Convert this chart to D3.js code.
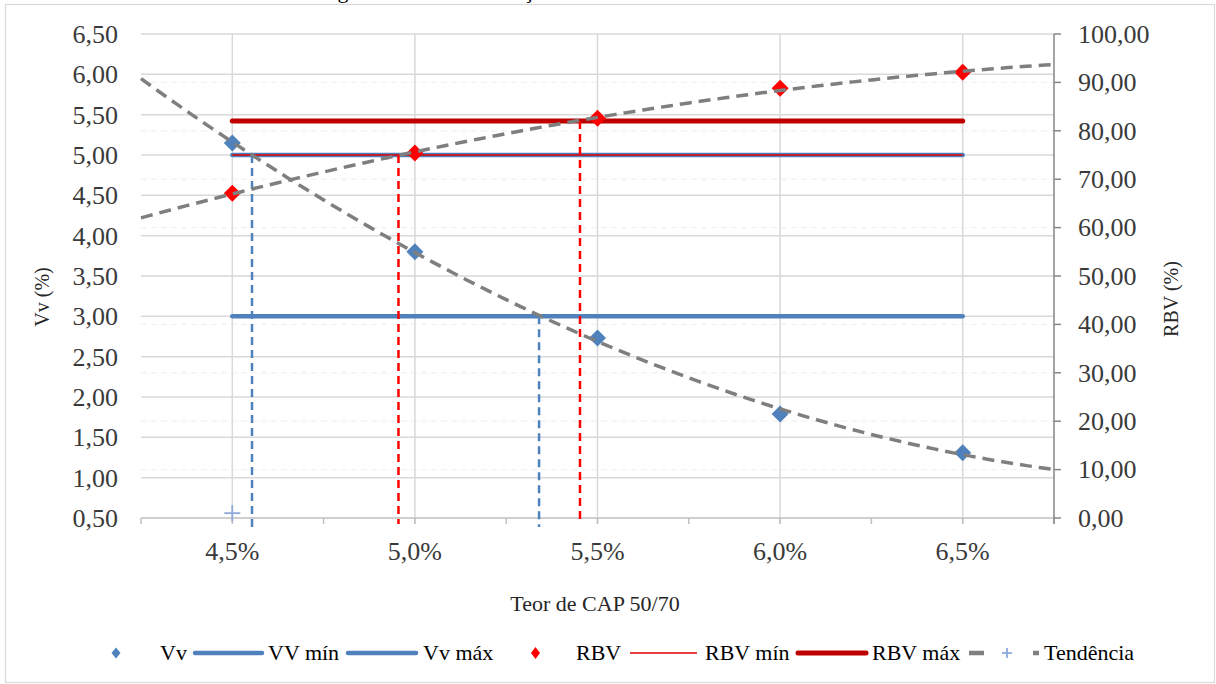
<!DOCTYPE html>
<html>
<head>
<meta charset="utf-8">
<script src="https://cdn.jsdelivr.net/npm/d3@7"></script>
<style>
  html, body { margin: 0; padding: 0; background: #fff; }
  svg { display: block; }
  svg text { font-family: "Liberation Serif", "Times New Roman", "DejaVu Serif", serif; }
</style>
</head>
<body>
<svg id="chart" width="1216" height="684" font-family="Liberation Serif, DejaVu Serif, serif"></svg>
<script>
// Binder content (% CAP 50/70) and measured properties
const teor = [4.5, 5.0, 5.5, 6.0, 6.5];
const vv = [5.15, 3.80, 2.73, 1.79, 1.31];        // air voids, %
const rbv = [67.1, 75.4, 82.6, 88.8, 92.1];       // voids filled with bitumen, %

// Specification limits
const vvMin = 3.00;
const vvMax = 5.00;
const rbvMin = 75.0;
const rbvMax = 82.0;

// Binder contents where the trend curves reach each limit
const vvCrossTeor = [4.554, 5.340];
const vvCrossLimit = [vvMax, vvMin];
const rbvCrossTeor = [4.955, 5.452];
const rbvCrossLimit = [rbvMin, rbvMax];

// Point of the "Tendência" series
const trendPointTeor = [4.5];
const trendPointValue = [0.56];

// Axes
const xDomain = [4.25, 6.75];
const xLabelTicks = [4.5, 5.0, 5.5, 6.0, 6.5];
const xMinorTicks = [4.25, 4.5, 4.75, 5.0, 5.25, 5.5, 5.75, 6.0, 6.25, 6.5, 6.75];
const leftTicks = [0.5, 1.0, 1.5, 2.0, 2.5, 3.0, 3.5, 4.0, 4.5, 5.0, 5.5, 6.0, 6.5];
const rightTicks = [0, 10, 20, 30, 40, 50, 60, 70, 80, 90, 100];

const legendItems = ["Vv", "VV mín", "Vv máx", "RBV", "RBV mín", "RBV máx", "Tendência"];

const FONT = "Liberation Serif, DejaVu Serif, serif";
const svg = d3.select("#chart");
const plot = { left: 141, right: 1054, top: 34, bottom: 518 };

const x = d3.scaleLinear().domain(xDomain).range([plot.left, plot.right]);
const yL = d3.scaleLinear().domain([0.5, 6.5]).range([plot.bottom, plot.top]);
const yR = d3.scaleLinear().domain([0, 100]).range([plot.bottom, plot.top]);

const comma = (v, d) => v.toFixed(d).replace(".", ",");

// Least-squares quadratic (polynomial trend line)
function polyfit2(xs, ys) {
  const n = xs.length;
  const mx = d3.mean(xs);
  const u = xs.map(v => v - mx);
  const s2 = d3.sum(u, v => v * v), s3 = d3.sum(u, v => v * v * v), s4 = d3.sum(u, v => v ** 4);
  const sy = d3.sum(ys), suy = d3.sum(u, (v, i) => v * ys[i]), su2y = d3.sum(u, (v, i) => v * v * ys[i]);
  const A = [[n, 0, s2, sy], [0, s2, s3, suy], [s2, s3, s4, su2y]];
  for (let i = 0; i < 3; i++) {
    for (let k = i + 1; k < 3; k++) {
      const f = A[k][i] / A[i][i];
      for (let j = i; j < 4; j++) A[k][j] -= f * A[i][j];
    }
  }
  const c = A[2][3] / A[2][2];
  const b = (A[1][3] - A[1][2] * c) / A[1][1];
  const a = (A[0][3] - A[0][2] * c) / A[0][0];
  return t => a + b * (t - mx) + c * (t - mx) * (t - mx);
}
const vvFit = polyfit2(teor, vv);
const rbvFit = polyfit2(teor, rbv);
const trendX = d3.range(xDomain[0], xDomain[1] + 1e-9, 0.025);

// Title (runs above the chart frame)
const title = svg.append("text")
  .attr("font-family", FONT)
  .attr("y", -2).attr("font-size", 22).attr("fill", "#000")
  .text("Dosagem Marshall - Variação de Vv e RBV com o teor de CAP");
const gPos = title.node().getStartPositionOfChar(4).x + title.node().getExtentOfChar(4).width / 2;
title.attr("x", 343 - gPos);

// Chart frame
svg.append("rect").attr("x", 5.5).attr("y", 4.5).attr("width", 1209).attr("height", 678)
  .attr("fill", "#fff").attr("stroke", "#d9d9d9").attr("stroke-width", 1.2);

// Secondary-axis gridlines (faint dashed)
svg.append("g").selectAll("line").data(rightTicks.slice(1, -1)).join("line")
  .attr("x1", plot.left).attr("x2", plot.right)
  .attr("y1", d => yR(d)).attr("y2", d => yR(d))
  .attr("stroke", "#f1f1f1").attr("stroke-width", 1.3).attr("stroke-dasharray", "6,4");

// Primary gridlines
svg.append("g").selectAll("line").data(leftTicks.slice(1)).join("line")
  .attr("x1", plot.left).attr("x2", plot.right)
  .attr("y1", d => yL(d)).attr("y2", d => yL(d))
  .attr("stroke", "#d9d9d9").attr("stroke-width", 1.5);
svg.append("g").selectAll("line").data(xLabelTicks).join("line")
  .attr("x1", d => x(d)).attr("x2", d => x(d))
  .attr("y1", plot.top).attr("y2", plot.bottom + 5)
  .attr("stroke", "#d9d9d9").attr("stroke-width", 1.5);

// X axis line and tick marks
svg.append("line").attr("x1", plot.left).attr("x2", plot.right)
  .attr("y1", plot.bottom).attr("y2", plot.bottom)
  .attr("stroke", "#bfbfbf").attr("stroke-width", 1.5);
svg.append("g").selectAll("line").data(xMinorTicks).join("line")
  .attr("x1", d => x(d)).attr("x2", d => x(d))
  .attr("y1", plot.bottom).attr("y2", plot.bottom + 6)
  .attr("stroke", "#bfbfbf").attr("stroke-width", 1.5);

// Right axis line and ticks
svg.append("line").attr("x1", plot.right).attr("x2", plot.right)
  .attr("y1", plot.top).attr("y2", plot.bottom + 6)
  .attr("stroke", "#868686").attr("stroke-width", 1.5);
svg.append("g").selectAll("line").data(rightTicks).join("line")
  .attr("x1", plot.right).attr("x2", plot.right + 7)
  .attr("y1", d => yR(d)).attr("y2", d => yR(d))
  .attr("stroke", "#868686").attr("stroke-width", 1.5);

// Tick labels
const labels = svg.append("g").attr("font-family", FONT).attr("font-size", 26).attr("fill", "#3a3a3a");
labels.append("g").selectAll("text").data(leftTicks).join("text")
  .attr("x", 118).attr("y", d => yL(d)).attr("dy", "0.34em")
  .attr("text-anchor", "end")
  .text(d => comma(d, 2));
labels.append("g").selectAll("text").data(rightTicks).join("text")
  .attr("x", 1078).attr("y", d => yR(d)).attr("dy", "0.34em")
  .attr("text-anchor", "start")
  .text(d => comma(d, 2));
labels.append("g").selectAll("text").data(xLabelTicks).join("text")
  .attr("x", d => x(d)).attr("y", 560)
  .attr("text-anchor", "middle")
  .text(d => comma(d, 1) + "%");

// Axis titles
const titles = svg.append("g").attr("font-family", FONT).attr("fill", "#262626").attr("text-anchor", "middle");
titles.append("text").attr("transform", "translate(49,297) rotate(-90)")
  .attr("font-size", 20).text("Vv (%)");
titles.append("text").attr("transform", "translate(1178,299) rotate(-90)")
  .attr("font-size", 20).text("RBV (%)");
titles.append("text").attr("x", 595).attr("y", 611)
  .attr("font-size", 22).text("Teor de CAP 50/70");

// Limit lines
const lim = svg.append("g").attr("stroke-linecap", "round");
const xa = x(teor[0]), xb = x(teor[teor.length - 1]);
lim.append("line").attr("x1", xa).attr("x2", xb).attr("y1", yL(vvMin)).attr("y2", yL(vvMin))
  .attr("stroke", "#4f81bd").attr("stroke-width", 4.5);
lim.append("line").attr("x1", xa).attr("x2", xb).attr("y1", yL(vvMax)).attr("y2", yL(vvMax))
  .attr("stroke", "#4f81bd").attr("stroke-width", 4.5);
lim.append("line").attr("x1", xa).attr("x2", xb).attr("y1", yR(rbvMin)).attr("y2", yR(rbvMin))
  .attr("stroke", "#e00000").attr("stroke-width", 1.3).attr("stroke-linecap", "butt");
lim.append("line").attr("x1", xa).attr("x2", xb).attr("y1", yR(rbvMax)).attr("y2", yR(rbvMax))
  .attr("stroke", "#c00000").attr("stroke-width", 5);

// Drop lines from the limit crossings
svg.append("g").selectAll("line").data(vvCrossTeor).join("line")
  .attr("x1", d => x(d)).attr("x2", d => x(d))
  .attr("y1", (d, i) => yL(vvCrossLimit[i])).attr("y2", plot.bottom + 9)
  .attr("stroke", "#4f81bd").attr("stroke-width", 2.5).attr("stroke-dasharray", "8,5");
svg.append("g").selectAll("line").data(rbvCrossTeor).join("line")
  .attr("x1", d => x(d)).attr("x2", d => x(d))
  .attr("y1", (d, i) => yR(rbvCrossLimit[i])).attr("y2", plot.bottom + 6)
  .attr("stroke", "#ff0000").attr("stroke-width", 2.5).attr("stroke-dasharray", "8,5");

// Markers
const diamond = r => `M0,${-r}L${r},0L0,${r}L${-r},0Z`;
svg.append("g").selectAll("path").data(teor).join("path")
  .attr("transform", (d, i) => `translate(${x(d)},${yL(vv[i])})`)
  .attr("d", diamond(8.5)).attr("fill", "#4f81bd");
svg.append("g").selectAll("path").data(teor).join("path")
  .attr("transform", (d, i) => `translate(${x(d)},${yR(rbv[i])})`)
  .attr("d", diamond(8.5)).attr("fill", "#ff0000");

// Trend curves
const trendStyle = sel => sel.attr("fill", "none").attr("stroke", "#7f7f7f")
  .attr("stroke-width", 3.5).attr("stroke-dasharray", "12,7");
svg.append("path").datum(trendX)
  .attr("d", d3.line().x(d => x(d)).y(d => yL(vvFit(d))))
  .call(trendStyle);
svg.append("path").datum(trendX)
  .attr("d", d3.line().x(d => x(d)).y(d => yR(rbvFit(d))))
  .call(trendStyle);

// "Tendência" series point
const plus = (g, cx, cy, r) => {
  g.append("line").attr("x1", cx - r).attr("x2", cx + r).attr("y1", cy).attr("y2", cy);
  g.append("line").attr("x1", cx).attr("x2", cx).attr("y1", cy - r).attr("y2", cy + r);
};
const tp = svg.append("g").attr("stroke", "#8eaadb").attr("stroke-width", 1.8);
trendPointTeor.forEach((d, i) => plus(tp, x(d), yL(trendPointValue[i]), 8));

// Legend
const ly = 653;
const lg = svg.append("g").attr("font-family", FONT).attr("font-size", 22).attr("fill", "#000");
const lt = (xx, s) => lg.append("text").attr("x", xx).attr("y", ly).attr("dy", "0.34em").text(s);
lg.append("path").attr("transform", `translate(116,${ly})`).attr("d", "M0,-5.5L4.5,0L0,5.5L-4.5,0Z").attr("fill", "#4f81bd");
lt(160, legendItems[0]);
lg.append("line").attr("x1", 195).attr("x2", 262).attr("y1", ly).attr("y2", ly)
  .attr("stroke", "#4f81bd").attr("stroke-width", 4.5).attr("stroke-linecap", "round");
lt(268, legendItems[1]);
lg.append("line").attr("x1", 348).attr("x2", 416).attr("y1", ly).attr("y2", ly)
  .attr("stroke", "#4f81bd").attr("stroke-width", 4.5).attr("stroke-linecap", "round");
lt(423, legendItems[2]);
lg.append("path").attr("transform", `translate(535.5,${ly})`).attr("d", "M0,-6L4.5,0L0,6L-4.5,0Z").attr("fill", "#ff0000");
lt(576, legendItems[3]);
lg.append("line").attr("x1", 630).attr("x2", 697).attr("y1", ly).attr("y2", ly)
  .attr("stroke", "#e00000").attr("stroke-width", 1.3);
lt(705, legendItems[4]);
lg.append("line").attr("x1", 798).attr("x2", 866).attr("y1", ly).attr("y2", ly)
  .attr("stroke", "#c00000").attr("stroke-width", 5).attr("stroke-linecap", "round");
lt(872, legendItems[5]);
lg.append("line").attr("x1", 969).attr("x2", 1039).attr("y1", ly).attr("y2", ly)
  .attr("stroke", "#7f7f7f").attr("stroke-width", 4.5).attr("stroke-dasharray", "15,49,6");
const lp = lg.append("g").attr("stroke", "#8eaadb").attr("stroke-width", 1.8);
plus(lp, 1007, ly, 5);
lt(1044, legendItems[6]);
</script>
</body>
</html>
